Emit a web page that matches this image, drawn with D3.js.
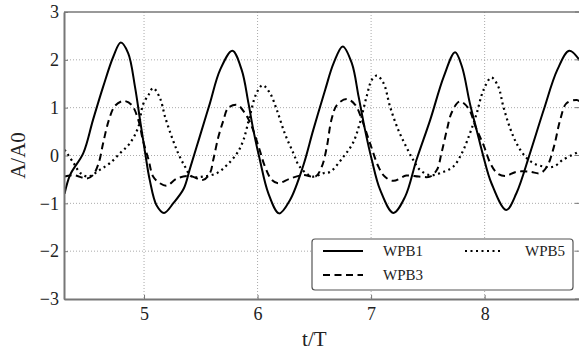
<!DOCTYPE html>
<html>
<head>
<meta charset="utf-8">
<script src="https://cdn.jsdelivr.net/npm/d3@7"></script>
<style>
  body { margin: 0; background: #fff; }
  svg text { font-family: "Liberation Serif", "DejaVu Serif", serif; fill: #222; }
</style>
</head>
<body>
<script>
// values (t/T, A/A0)
var wpb1T = [4.30,4.35,4.465,4.55,4.64,4.73,4.795,4.86,4.92,4.965,5.01,5.05,5.11,5.176,5.26,5.35,5.405,5.49,5.58,5.67,5.778,5.86,5.92,5.963,6.02,6.095,6.19,6.286,6.40,6.49,6.595,6.67,6.75,6.83,6.89,6.947,7.006,7.08,7.196,7.30,7.40,7.52,7.64,7.74,7.80,7.87,7.93,7.99,8.06,8.19,8.28,8.40,8.52,8.64,8.745,8.84];
var wpb1A = [-0.80,-0.40,0.05,0.74,1.44,2.07,2.36,2.14,1.44,0.74,0.05,-0.51,-1.04,-1.20,-0.99,-0.69,-0.27,0.39,1.09,1.79,2.19,1.79,1.09,0.53,-0.09,-0.79,-1.21,-0.93,-0.23,0.53,1.37,1.93,2.28,1.93,1.23,0.53,-0.09,-0.72,-1.20,-0.86,-0.09,0.74,1.65,2.16,1.86,1.09,0.53,-0.03,-0.58,-1.14,-0.79,0.05,0.95,1.79,2.19,1.98];

var wpb3T = [4.30,4.38,4.495,4.55,4.60,4.64,4.69,4.745,4.82,4.89,4.95,4.99,5.04,5.08,5.14,5.20,5.29,5.405,5.52,5.58,5.61,5.655,5.70,5.74,5.82,5.89,5.95,6.01,6.065,6.125,6.18,6.29,6.40,6.51,6.566,6.61,6.65,6.70,6.786,6.86,6.92,6.99,7.064,7.12,7.196,7.31,7.42,7.52,7.58,7.62,7.667,7.71,7.78,7.857,7.92,7.99,8.05,8.11,8.18,8.28,8.40,8.49,8.55,8.61,8.665,8.72,8.81,8.84];
var wpb3A = [-0.44,-0.41,-0.48,-0.41,-0.16,0.26,0.74,1.04,1.14,1.06,0.74,0.32,-0.09,-0.44,-0.58,-0.63,-0.48,-0.43,-0.51,-0.37,-0.09,0.39,0.74,0.99,1.06,0.88,0.60,0.18,-0.23,-0.51,-0.58,-0.48,-0.41,-0.44,-0.23,0.18,0.74,1.06,1.18,1.06,0.74,0.26,-0.23,-0.44,-0.53,-0.42,-0.44,-0.44,-0.30,0.05,0.53,0.90,1.13,0.99,0.60,0.22,-0.16,-0.37,-0.43,-0.34,-0.34,-0.37,-0.23,0.18,0.74,1.09,1.16,1.13];

var wpb5T = [4.30,4.38,4.44,4.51,4.61,4.70,4.79,4.877,4.95,4.99,5.04,5.08,5.14,5.185,5.244,5.30,5.36,5.42,5.52,5.64,5.73,5.82,5.875,5.93,5.99,6.045,6.11,6.17,6.24,6.315,6.37,6.48,6.58,6.64,6.755,6.84,6.90,6.96,7.006,7.05,7.11,7.167,7.24,7.31,7.37,7.43,7.52,7.64,7.725,7.80,7.87,7.93,7.99,8.06,8.12,8.165,8.22,8.28,8.36,8.43,8.52,8.61,8.69,8.84];
var wpb5A = [0.12,-0.16,-0.37,-0.44,-0.30,-0.16,0.05,0.26,0.60,1.06,1.27,1.41,1.20,0.81,0.39,0.05,-0.23,-0.44,-0.44,-0.37,-0.20,0.05,0.32,0.81,1.30,1.47,1.30,0.95,0.46,0.05,-0.23,-0.44,-0.37,-0.34,-0.03,0.26,0.67,1.23,1.58,1.67,1.51,1.02,0.53,0.18,-0.09,-0.30,-0.41,-0.34,-0.23,0.05,0.46,0.88,1.37,1.63,1.44,1.02,0.60,0.26,-0.03,-0.16,-0.23,-0.23,-0.09,0.09];

var seriesNames = ["WPB1", "WPB3", "WPB5"];
var xTicks = [5, 6, 7, 8];
var yTicks = [-3, -2, -1, 0, 1, 2, 3];

var outerWidth = 579;
var outerHeight = 354;
var plotLeft = 64;
var plotRight = 580;
var plotTop = 12;
var plotBottom = 299;
var serif = "'Liberation Serif', 'DejaVu Serif', serif";

var dashes = ["none", "7,4.5", "2,3.5"];

var x = d3.scaleLinear()
        .domain([4.295, 8.84])
        .range([plotLeft, plotRight]);

var y = d3.scaleLinear()
        .domain([-3, 3])
        .range([plotBottom, plotTop]);

var svg = d3.select("body").append("svg")
                           .attr("width", outerWidth)
                           .attr("height", outerHeight);

svg.append("defs").append("clipPath")
   .attr("id", "plotclip")
   .append("rect")
   .attr("x", plotLeft)
   .attr("y", plotTop)
   .attr("width", plotRight - plotLeft)
   .attr("height", plotBottom - plotTop);

// grid
svg.append("g").selectAll("line")
   .data(xTicks)
   .enter()
   .append("line")
   .attr("x1", function(d) { return x(d); })
   .attr("x2", function(d) { return x(d); })
   .attr("y1", plotTop)
   .attr("y2", plotBottom)
   .attr("stroke", "#aaa")
   .attr("stroke-width", 1)
   .attr("stroke-dasharray", "1,2");

svg.append("g").selectAll("line")
   .data(yTicks.slice(1, -1))
   .enter()
   .append("line")
   .attr("x1", plotLeft)
   .attr("x2", plotRight)
   .attr("y1", function(d) { return y(d); })
   .attr("y2", function(d) { return y(d); })
   .attr("stroke", "#aaa")
   .attr("stroke-width", 1)
   .attr("stroke-dasharray", "1,2");

// curves
var series = seriesNames.map(function(name, i) {
    var ts = [wpb1T, wpb3T, wpb5T][i];
    var as = [wpb1A, wpb3A, wpb5A][i];
    return { name: name, dash: dashes[i], points: ts.map(function(t, j) { return [t, as[j]]; }) };
});

var line = d3.line()
             .x(function(d) { return x(d[0]); })
             .y(function(d) { return y(d[1]); })
             .curve(d3.curveCatmullRom.alpha(0.5));

svg.append("g")
   .attr("clip-path", "url(#plotclip)")
   .selectAll("path")
   .data(series)
   .enter()
   .append("path")
   .attr("d", function(d) { return line(d.points); })
   .attr("fill", "none")
   .attr("stroke", "#000")
   .attr("stroke-width", function(d, i) { return i == 2 ? 2.2 : 2; })
   .attr("stroke-dasharray", function(d) { return d.dash; });

// axes
var xAxis = svg.append("g")
   .attr("transform", "translate(0," + plotBottom + ")")
   .call(d3.axisBottom(x).tickValues(xTicks).tickFormat(d3.format("d"))
          .tickSizeInner(-4).tickSizeOuter(0).tickPadding(8));
var yAxis = svg.append("g")
   .attr("transform", "translate(" + plotLeft + ",0)")
   .call(d3.axisLeft(y).tickValues(yTicks).tickSizeInner(-4).tickSizeOuter(0).tickPadding(5)
          .tickFormat(function(d) { return d < 0 ? "\u2212" + Math.abs(d) : d; }));

[xAxis, yAxis].forEach(function(a) {
    a.attr("font-family", null).attr("font-size", null);
    a.select(".domain").attr("stroke", "#777").attr("stroke-width", 2);
    a.selectAll(".tick line").attr("stroke", "#777");
    a.selectAll(".tick text")
     .style("font-size", "18px")
     .style("font-family", serif)
     .attr("fill", "#222");
});

// top border
svg.append("line")
   .attr("x1", plotLeft).attr("x2", plotRight)
   .attr("y1", plotTop).attr("y2", plotTop)
   .attr("stroke", "#777")
   .attr("stroke-width", 1.5);

// right side ticks
svg.append("g").selectAll("line")
   .data(yTicks)
   .enter()
   .append("line")
   .attr("x1", outerWidth - 4).attr("x2", outerWidth)
   .attr("y1", function(d) { return y(d); })
   .attr("y2", function(d) { return y(d); })
   .attr("stroke", "#777");

// axis labels
svg.append("text")
   .attr("x", (x(6) + x(7)) / 2)
   .attr("y", 346)
   .attr("text-anchor", "middle")
   .style("font-size", "21px")
   .text("t/T");

svg.append("text")
   .attr("transform", "translate(25," + y(0) + ") rotate(-90)")
   .attr("text-anchor", "middle")
   .style("font-size", "21px")
   .text("A/A0");

// legend
var legend = svg.append("g");
legend.append("rect")
      .attr("x", 312)
      .attr("y", 239)
      .attr("width", 261)
      .attr("height", 51)
      .attr("rx", 3)
      .attr("fill", "#fff")
      .attr("stroke", "#555")
      .attr("stroke-width", 1.2);

var legendPos = [[323, 363, 251, 383, "start"], [323, 363, 275, 383, "start"], [465, 503, 251, 565, "end"]];

legend.selectAll("line.key")
      .data(series)
      .enter()
      .append("line")
      .attr("class", "key")
      .attr("x1", function(d, i) { return legendPos[i][0]; })
      .attr("x2", function(d, i) { return legendPos[i][1]; })
      .attr("y1", function(d, i) { return legendPos[i][2]; })
      .attr("y2", function(d, i) { return legendPos[i][2]; })
      .attr("stroke", "#000")
      .attr("stroke-width", 2)
      .attr("stroke-dasharray", function(d) { return d.dash; });

legend.selectAll("text")
      .data(series)
      .enter()
      .append("text")
      .attr("x", function(d, i) { return legendPos[i][3]; })
      .attr("y", function(d, i) { return legendPos[i][2] + 5; })
      .attr("text-anchor", function(d, i) { return legendPos[i][4]; })
      .style("font-size", "15px")
      .text(function(d) { return d.name; });
</script>
</body>
</html>
